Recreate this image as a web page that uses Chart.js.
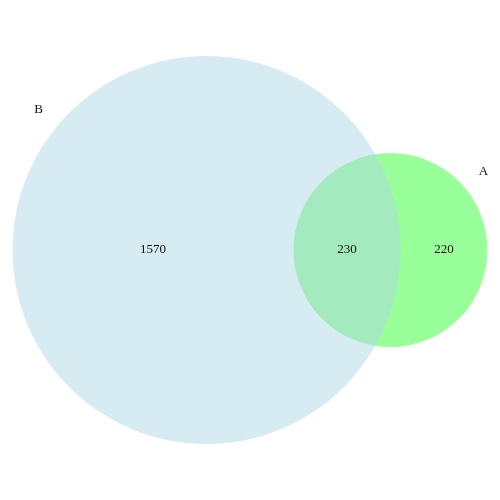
<!DOCTYPE html>
<html lang="en">
<head>
    <meta charset="UTF-8">
    <title>Venn</title>
    <script src="https://cdn.jsdelivr.net/npm/chart.js"></script>
    <style>
        html, body { margin: 0; padding: 0; background: #fff; }
        #wrap { width: 500px; height: 500px; }
    </style>
</head>
<body>
    <div id="wrap"><canvas id="venn" width="500" height="500"></canvas></div>
    <script>
        // set data
        const setNames = ['B', 'A'];
        const onlyCounts = [1570, 220];
        const overlapCount = 230;
        const setColors = ['rgba(173, 216, 230, 0.5)', 'rgba(0, 255, 0, 0.4)'];

        // total sizes of each set
        const totals = [onlyCounts[0] + overlapCount, onlyCounts[1] + overlapCount];

        // radius in pixels of the big set, others scale by area
        const bigR = 194;
        const radii = totals.map(t => bigR * Math.sqrt(t / totals[0]));

        function lensArea(r1, r2, d) {
            if (d >= r1 + r2) return 0;
            if (d <= Math.abs(r1 - r2)) return Math.PI * Math.min(r1, r2) ** 2;
            const a1 = r1 * r1 * Math.acos((d * d + r1 * r1 - r2 * r2) / (2 * d * r1));
            const a2 = r2 * r2 * Math.acos((d * d + r2 * r2 - r1 * r1) / (2 * d * r2));
            const k = 0.5 * Math.sqrt((-d + r1 + r2) * (d + r1 - r2) * (d - r1 + r2) * (d + r1 + r2));
            return a1 + a2 - k;
        }

        // find distance between centres so the overlap area matches
        const target = overlapCount / totals[0] * Math.PI * radii[0] ** 2;
        let lo = Math.abs(radii[0] - radii[1]), hi = radii[0] + radii[1];
        for (let i = 0; i < 60; i++) {
            const mid = (lo + hi) / 2;
            if (lensArea(radii[0], radii[1], mid) > target) lo = mid; else hi = mid;
        }
        const dist = (lo + hi) / 2;

        // centre the pair horizontally
        const leftEdge = (500 - (radii[0] + dist + radii[1])) / 2;
        const cx = [leftEdge + radii[0], leftEdge + radii[0] + dist];
        const cy = 250;

        // big bubbles would otherwise shrink the chart area
        Chart.controllers.bubble.prototype.getMaxOverflow = () => 0;

        const labelPlugin = {
            id: 'vennLabels',
            afterDatasetsDraw(chart) {
                const ctx = chart.ctx;
                const xs = chart.scales.x, ys = chart.scales.y;
                const bL = cx[0] - radii[0], bR = cx[0] + radii[0];
                const aL = cx[1] - radii[1], aR = cx[1] + radii[1];
                ctx.save();
                ctx.fillStyle = '#111';
                ctx.font = '13px "Liberation Serif", "DejaVu Serif", serif';
                ctx.textAlign = 'center';
                ctx.textBaseline = 'middle';
                const y = ys.getPixelForValue(cy);
                ctx.fillText(String(onlyCounts[0]), xs.getPixelForValue((bL + aL) / 2), y);
                ctx.fillText(String(overlapCount), xs.getPixelForValue((aL + bR) / 2), y);
                ctx.fillText(String(onlyCounts[1]), xs.getPixelForValue((bR + aR) / 2), y);
                // set names outside the circles
                const angB = -140 * Math.PI / 180, angA = -40 * Math.PI / 180;
                ctx.fillText(setNames[0], xs.getPixelForValue(cx[0] + radii[0] * 1.13 * Math.cos(angB)),
                    ys.getPixelForValue(cy + radii[0] * 1.13 * Math.sin(angB)));
                ctx.fillText(setNames[1], xs.getPixelForValue(cx[1] + radii[1] * 1.25 * Math.cos(angA)),
                    ys.getPixelForValue(cy + radii[1] * 1.25 * Math.sin(angA)));
                ctx.restore();
            }
        };

        new Chart(document.getElementById('venn'), {
            type: 'bubble',
            data: {
                datasets: setNames.map((name, i) => ({
                    label: name,
                    data: [{ x: cx[i], y: cy, r: radii[i] }],
                    backgroundColor: setColors[i],
                    borderWidth: 0,
                    hoverBorderWidth: 0,
                    clip: false
                }))
            },
            options: {
                responsive: false,
                animation: false,
                layout: { padding: 0 },
                plugins: { legend: { display: false }, tooltip: { enabled: false } },
                scales: {
                    x: { type: 'linear', min: 0, max: 500, display: false },
                    y: { type: 'linear', min: 0, max: 500, reverse: true, display: false }
                }
            },
            plugins: [labelPlugin]
        });
    </script>
</body>
</html>
